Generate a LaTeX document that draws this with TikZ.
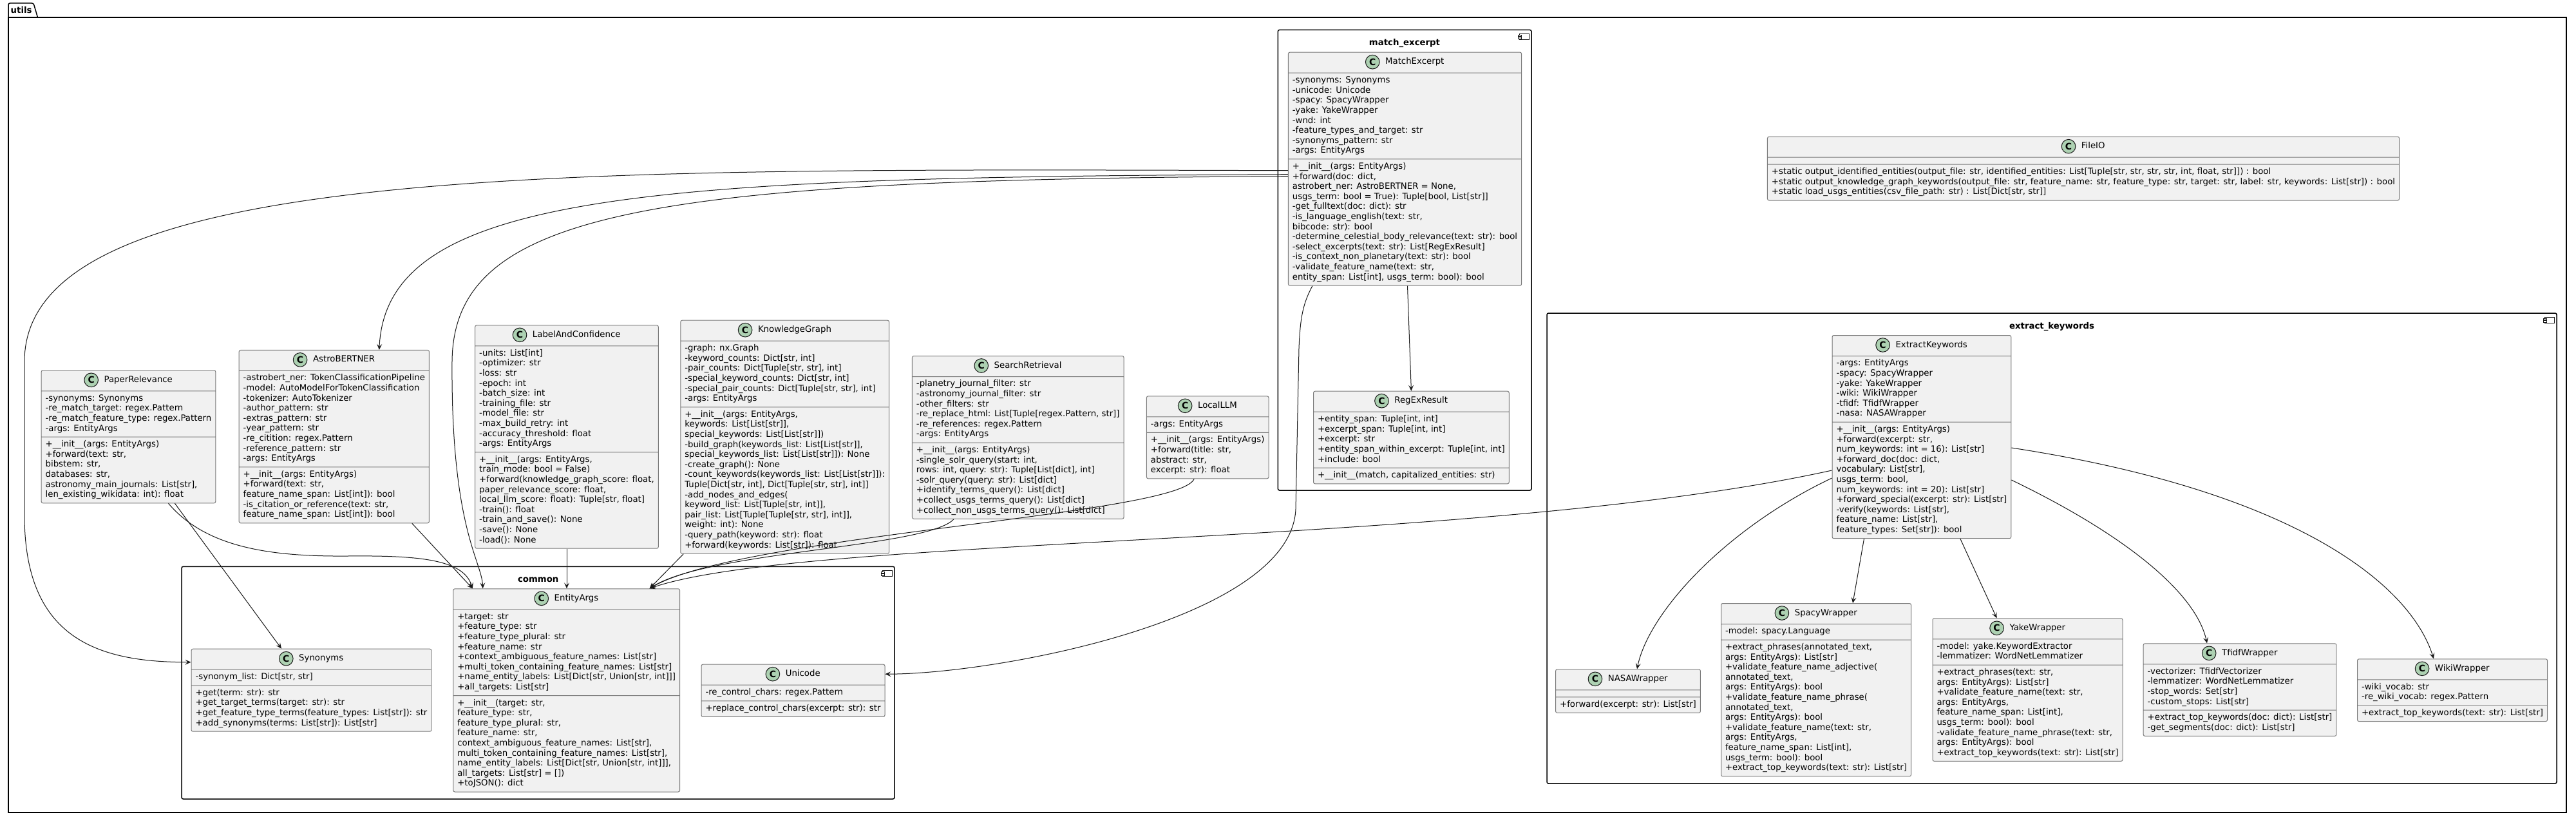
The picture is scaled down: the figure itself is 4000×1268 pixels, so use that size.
\documentclass[tikz,border=0pt]{standalone}
\usepackage{fontspec}
\setmainfont{DejaVu Sans}
\usetikzlibrary{shapes.multipart,arrows.meta,calc}
\definecolor{clsfill}{HTML}{F1F1F1}
\definecolor{clsline}{HTML}{7A7A7A}
\definecolor{spotfill}{HTML}{ADD1B2}
\definecolor{ink}{HTML}{181818}
\newcommand\clsfont{\fontsize{13.3pt}{15.6pt}\selectfont}
\newcommand\hdr[1]{\rule[-6.5pt]{0pt}{23pt}\hspace*{30.5pt}\phantom{#1}}
\newcommand\clstitle[2]{%
  \node[clsttl] (#1-t) at ($(#1.north)+(0,15.5)$) {\hspace*{30.5pt}#2};
  \node[spot] (#1-c) at ($(#1-t.west)+(10.8,0)$) {C};}
\newcommand\compicon[2]{%
  \draw[ink, line width=1pt, fill=white] (#1-19,#2+6) rectangle (#1-4,#2+15);
  \draw[ink, line width=1pt, fill=white] (#1-21,#2+8) rectangle (#1-16,#2+10.5);
  \draw[ink, line width=1pt, fill=white] (#1-21,#2+11.5) rectangle (#1-16,#2+14);}
\tikzset{
  cls/.style={rectangle split, rectangle split parts=3,
    rectangle split part align={center,left,left},
    draw=clsline, fill=clsfill, line width=1pt, rounded corners=2.5pt,
    inner xsep=6.5pt, inner ysep=4pt, align=left, font=\clsfont, anchor=north, text=black},
  clsttl/.style={inner sep=0pt, text height=9.5pt, text depth=2.5pt, font=\clsfont, anchor=center},
  spot/.style={circle, draw=ink, fill=spotfill, line width=1pt, minimum size=21.6pt, inner sep=0pt, font=\fontsize{14pt}{16pt}\selectfont\bfseries},
  pkg/.style={draw=black, line width=1.5pt, fill=white, rounded corners=2.5pt},
  pkgtitle/.style={font=\fontsize{13.3pt}{15.6pt}\selectfont\bfseries, inner sep=0pt, anchor=center},
  dep/.style={draw=ink, line width=1pt, -{Stealth[length=9pt,width=8pt,inset=4pt]}},
}
\begin{document}
\begin{tikzpicture}[x=1pt,y=-1pt]
\useasboundingbox (0,0) rectangle (4000,1268);
\fill[white] (0,0) rectangle (4000,1268);
% utils package
\draw[line width=1.5pt, black] (13,27) rectangle (3985,1261);
\draw[line width=1.5pt, black, rounded corners=2.5pt] (13,27) -- (13,5) -- (52,5) -- (58.5,27);
\node[pkgtitle, anchor=west] (utils-t) at (16.5,16) {utils};
% sub packages
\draw[pkg] (1984.3,46.4) rectangle (2378,761);
\node[pkgtitle] (pme) at (2181,67.5) {match\_excerpt};
\compicon{2378}{46.4}
\draw[pkg] (282,879.3) rectangle (1389,1240);
\node[pkgtitle] (pcom) at (835.7,900) {common};
\compicon{1389}{879.3}
\draw[pkg] (2402,486) rectangle (3970,1216);
\node[pkgtitle] (pek) at (3186,507) {extract\_keywords};
\compicon{3970}{486}

% ---------- classes ----------
\node[cls] (me) at (2181.5,80.7) {\hdr{MatchExcerpt}\nodepart{two}\strut -synonyms: Synonyms\\-unicode: Unicode\\-spacy: SpacyWrapper\\-yake: YakeWrapper\\-wnd: int\\-feature\_types\_and\_target: str\\-synonyms\_pattern: str\\-args: EntityArgs\strut
\nodepart{three}\strut +\_\_init\_\_(args: EntityArgs)\\+forward(doc: dict,\\astrobert\_ner: AstroBERTNER = None,\\usgs\_term: bool = True): Tuple[bool, List[str]]\\-get\_fulltext(doc: dict): str\\-is\_language\_english(text: str,\\bibcode: str): bool\\-determine\_celestial\_body\_relevance(text: str): bool\\-select\_excerpts(text: str): List[RegExResult]\\-is\_context\_non\_planetary(text: str): bool\\-validate\_feature\_name(text: str,\\entity\_span: List[int], usgs\_term: bool): bool\strut};
\clstitle{me}{MatchExcerpt}

\node[cls] (rr) at (2191.4,606.7) {\hdr{RegExResult}\nodepart{two}\strut +entity\_span: Tuple[int, int]\\+excerpt\_span: Tuple[int, int]\\+excerpt: str\\+entity\_span\_within\_excerpt: Tuple[int, int]\\+include: bool\strut
\nodepart{three}\strut +\_\_init\_\_(match, capitalized\_entities: str)\strut};
\clstitle{rr}{RegExResult}

\node[cls] (ll) at (1875.2,614.3) {\hdr{LocalLLM}\nodepart{two}\strut -args: EntityArgs\strut
\nodepart{three}\strut +\_\_init\_\_(args: EntityArgs)\\+forward(title: str,\\abstract: str,\\excerpt: str): float\strut};
\clstitle{ll}{LocalLLM}

\node[cls] (sr) at (1580.8,552) {\hdr{SearchRetrieval}\nodepart{two}\strut -planetry\_journal\_filter: str\\-astronomy\_journal\_filter: str\\-other\_filters: str\\-re\_replace\_html: List[Tuple[regex.Pattern, str]]\\-re\_references: regex.Pattern\\-args: EntityArgs\strut
\nodepart{three}\strut +\_\_init\_\_(args: EntityArgs)\\-single\_solr\_query(start: int,\\rows: int, query: str): Tuple[List[dict], int]\\-solr\_query(query: str): List[dict]\\+identify\_terms\_query(): List[dict]\\+collect\_usgs\_terms\_query(): List[dict]\\+collect\_non\_usgs\_terms\_query(): List[dict]\strut};
\clstitle{sr}{SearchRetrieval}

\node[cls] (kg) at (1218.7,496.7) {\hdr{KnowledgeGraph}\nodepart{two}\strut -graph: nx.Graph\\-keyword\_counts: Dict[str, int]\\-pair\_counts: Dict[Tuple[str, str], int]\\-special\_keyword\_counts: Dict[str, int]\\-special\_pair\_counts: Dict[Tuple[str, str], int]\\-args: EntityArgs\strut
\nodepart{three}\strut +\_\_init\_\_(args: EntityArgs,\\keywords: List[List[str]],\\special\_keywords: List[List[str]])\\-build\_graph(keywords\_list: List[List[str]],\\special\_keywords\_list: List[List[str]]): None\\-create\_graph(): None\\-count\_keywords(keywords\_list: List[List[str]]):\\Tuple[Dict[str, int], Dict[Tuple[str, str], int]]\\-add\_nodes\_and\_edges(\\keyword\_list: List[Tuple[str, int]],\\pair\_list: List[Tuple[Tuple[str, str], int]],\\weight: int): None\\-query\_path(keyword: str): float\\+forward(keywords: List[str]): float\strut};
\clstitle{kg}{KnowledgeGraph}

\node[cls] (lc) at (880,504.3) {\hdr{LabelAndConfidence}\nodepart{two}\strut -units: List[int]\\-optimizer: str\\-loss: str\\-epoch: int\\-batch\_size: int\\-training\_file: str\\-model\_file: str\\-max\_build\_retry: int\\-accuracy\_threshold: float\\-args: EntityArgs\strut
\nodepart{three}\strut +\_\_init\_\_(args: EntityArgs,\\train\_mode: bool = False)\\+forward(knowledge\_graph\_score: float,\\paper\_relevance\_score: float,\\local\_llm\_score: float): Tuple[str, float]\\-train(): float\\-train\_and\_save(): None\\-save(): None\\-load(): None\strut};
\clstitle{lc}{LabelAndConfidence}

\node[cls] (ab) at (518.8,542.9) {\hdr{AstroBERTNER}\nodepart{two}\strut -astrobert\_ner: TokenClassificationPipeline\\-model: AutoModelForTokenClassification\\-tokenizer: AutoTokenizer\\-author\_pattern: str\\-extras\_pattern: str\\-year\_pattern: str\\-re\_citition: regex.Pattern\\-reference\_pattern: str\\-args: EntityArgs\strut
\nodepart{three}\strut +\_\_init\_\_(args: EntityArgs)\\+forward(text: str,\\feature\_name\_span: List[int]): bool\\-is\_citation\_or\_reference(text: str,\\feature\_name\_span: List[int]): bool\strut};
\clstitle{ab}{AstroBERTNER}

\node[cls] (pr) at (199.5,574.3) {\hdr{PaperRelevance}\nodepart{two}\strut -synonyms: Synonyms\\-re\_match\_target: regex.Pattern\\-re\_match\_feature\_type: regex.Pattern\\-args: EntityArgs\strut
\nodepart{three}\strut +\_\_init\_\_(args: EntityArgs)\\+forward(text: str,\\bibstem: str,\\databases: str,\\astronomy\_main\_journals: List[str],\\len\_existing\_wikidata: int): float\strut};
\clstitle{pr}{PaperRelevance}

\node[cls] (ea) at (879.7,913.3) {\hdr{EntityArgs}\nodepart{two}\strut +target: str\\+feature\_type: str\\+feature\_type\_plural: str\\+feature\_name: str\\+context\_ambiguous\_feature\_names: List[str]\\+multi\_token\_containing\_feature\_names: List[str]\\+name\_entity\_labels: List[Dict[str, Union[str, int]]]\\+all\_targets: List[str]\strut
\nodepart{three}\strut +\_\_init\_\_(target: str,\\feature\_type: str,\\feature\_type\_plural: str,\\feature\_name: str,\\context\_ambiguous\_feature\_names: List[str],\\multi\_token\_containing\_feature\_names: List[str],\\name\_entity\_labels: List[Dict[str, Union[str, int]]],\\all\_targets: List[str] = [])\\+toJSON(): dict\strut};
\clstitle{ea}{EntityArgs}

\node[cls] (syn) at (483.5,1006.7) {\hdr{Synonyms}\nodepart{two}\strut -synonym\_list: Dict[str, str]\strut
\nodepart{three}\strut +get(term: str): str\\+get\_target\_terms(target: str): str\\+get\_feature\_type\_terms(feature\_types: List[str]): str\\+add\_synonyms(terms: List[str]): List[str]\strut};
\clstitle{syn}{Synonyms}

\node[cls] (uni) at (1231.5,1030.7) {\hdr{Unicode}\nodepart{two}\strut -re\_control\_chars: regex.Pattern\strut
\nodepart{three}\strut +replace\_control\_chars(excerpt: str): str\strut};
\clstitle{uni}{Unicode}

\node[cls] (fio) at (3235,211.7) {\hdr{FileIO}\nodepart{two}\rule{0pt}{2pt}
\nodepart{three}\strut +static output\_identified\_entities(output\_file: str, identified\_entities: List[Tuple[str, str, str, str, int, float, str]]) : bool\\+static output\_knowledge\_graph\_keywords(output\_file: str, feature\_name: str, feature\_type: str, target: str, label: str, keywords: List[str]) : bool\\+static load\_usgs\_entities(csv\_file\_path: str) : List[Dict[str, str]]\strut};
\clstitle{fio}{FileIO}

\node[cls] (ek) at (2983.9,520) {\hdr{ExtractKeywords}\nodepart{two}\strut -args: EntityArgs\\-spacy: SpacyWrapper\\-yake: YakeWrapper\\-wiki: WikiWrapper\\-tfidf: TfidfWrapper\\-nasa: NASAWrapper\strut
\nodepart{three}\strut +\_\_init\_\_(args: EntityArgs)\\+forward(excerpt: str,\\num\_keywords: int = 16): List[str]\\+forward\_doc(doc: dict,\\vocabulary: List[str],\\usgs\_term: bool,\\num\_keywords: int = 20): List[str]\\+forward\_special(excerpt: str): List[str]\\-verify(keywords: List[str],\\feature\_name: List[str],\\feature\_types: Set[str]): bool\strut};
\clstitle{ek}{ExtractKeywords}

\node[cls] (nw) at (2528,1038.3) {\hdr{NASAWrapper}\nodepart{two}\rule{0pt}{2pt}
\nodepart{three}\strut +forward(excerpt: str): List[str]\strut};
\clstitle{nw}{NASAWrapper}

\node[cls] (sw) at (2820,936) {\hdr{SpacyWrapper}\nodepart{two}\strut -model: spacy.Language\strut
\nodepart{three}\strut +extract\_phrases(annotated\_text,\\args: EntityArgs): List[str]\\+validate\_feature\_name\_adjective(\\annotated\_text,\\args: EntityArgs): bool\\+validate\_feature\_name\_phrase(\\annotated\_text,\\args: EntityArgs): bool\\+validate\_feature\_name(text: str,\\args: EntityArgs,\\feature\_name\_span: List[int],\\usgs\_term: bool): bool\\+extract\_top\_keywords(text: str): List[str]\strut};
\clstitle{sw}{SpacyWrapper}

\node[cls] (yw) at (3148.5,959.3) {\hdr{YakeWrapper}\nodepart{two}\strut -model: yake.KeywordExtractor\\-lemmatizer: WordNetLemmatizer\strut
\nodepart{three}\strut +extract\_phrases(text: str,\\args: EntityArgs): List[str]\\+validate\_feature\_name(text: str,\\args: EntityArgs,\\feature\_name\_span: List[int],\\usgs\_term: bool): bool\\-validate\_feature\_name\_phrase(text: str,\\args: EntityArgs): bool\\+extract\_top\_keywords(text: str): List[str]\strut};
\clstitle{yw}{YakeWrapper}

\node[cls] (tw) at (3478,998.3) {\hdr{TfidfWrapper}\nodepart{two}\strut -vectorizer: TfidfVectorizer\\-lemmatizer: WordNetLemmatizer\\-stop\_words: Set[str]\\-custom\_stops: List[str]\strut
\nodepart{three}\strut +extract\_top\_keywords(doc: dict): List[str]\\-get\_segments(doc: dict): List[str]\strut};
\clstitle{tw}{TfidfWrapper}

\node[cls] (ww) at (3808,1022.3) {\hdr{WikiWrapper}\nodepart{two}\strut -wiki\_vocab: str\\-re\_wiki\_vocab: regex.Pattern\strut
\nodepart{three}\strut +extract\_top\_keywords(text: str): List[str]\strut};
\clstitle{ww}{WikiWrapper}

% ---------- connectors ----------
\draw[dep] ($(me.south)+(4,0)$) -- (rr.north);
\draw[dep] ($(me.south west)+(38,0)$) .. controls (2024,470) and (2019,490) .. (2017,540) -- (2012,790) .. controls (2005,960) and (1550,1046) .. ($(uni.north east)+(0,15.5)$);
\draw[dep] ($(me.north west)+(0,184)$) .. controls (900,262) and (40,250) .. (38,560) -- (38,800) .. controls (38,990) and (150,1028) .. ($(syn.north west)+(0,21)$);
\draw[dep] ($(me.north west)+(0,190)$) .. controls (1000,275) and (600,300) .. ($(ab.north)+(70,0)$);
\draw[dep] ($(me.north west)+(0,193)$) .. controls (1000,278) and (705,330) .. (702,560) .. controls (700,820) and (748,870) .. ($(ea.north)+(-130,0)$);
\draw[dep] ($(pr.south)+(72,0)$) -- ($(syn.north)+(-46.5,0)$);
\draw[dep] ($(pr.south)+(62,0)$) .. controls (320,850) and (420,864) .. (540,863) .. controls (650,862) and (720,868) .. ($(ea.north)+(-146,0)$);
\draw[dep] ($(ab.south)+(121,0)$) -- ($(ea.north)+(-146,0)$);
\draw[dep] (lc.south) -- (lc.south |- ea.north);
\draw[dep] ($(kg.south west)+(5,0)$) -- ($(ea.north)+(129,0)$);
\draw[dep] ($(sr.south west)+(65,0)$) .. controls (1440,850) and (1100,855) .. ($(ea.north)+(129,0)$);
\draw[dep] ($(ll.south)+(-21,0)$) .. controls (1830,800) and (1150,830) .. ($(ea.north)+(129,0)$);
\draw[dep] ($(ek.north west)+(0,210)$) .. controls (2300,850) and (1250,830) .. ($(ea.north)+(129,0)$);
\draw[dep] ($(ek.north west)+(0,222)$) .. controls (2680,820) and (2560,950) .. ($(nw.north)+(14,0)$);
\draw[dep] ($(ek.south west)+(50,0)$) -- ($(sw.north)+(57,0)$);
\draw[dep] ($(ek.south)+(60,0)$) -- ($(yw.north)+(-48,0)$);
\draw[dep] ($(ek.north east)+(0,225)$) .. controls (3300,830) and (3410,920) .. ($(tw.north)+(-51,0)$);
\draw[dep] ($(ek.north east)+(0,175)$) .. controls (3550,760) and (3740,900) .. ($(ww.north)+(-29,0)$);
\end{tikzpicture}
\end{document}
